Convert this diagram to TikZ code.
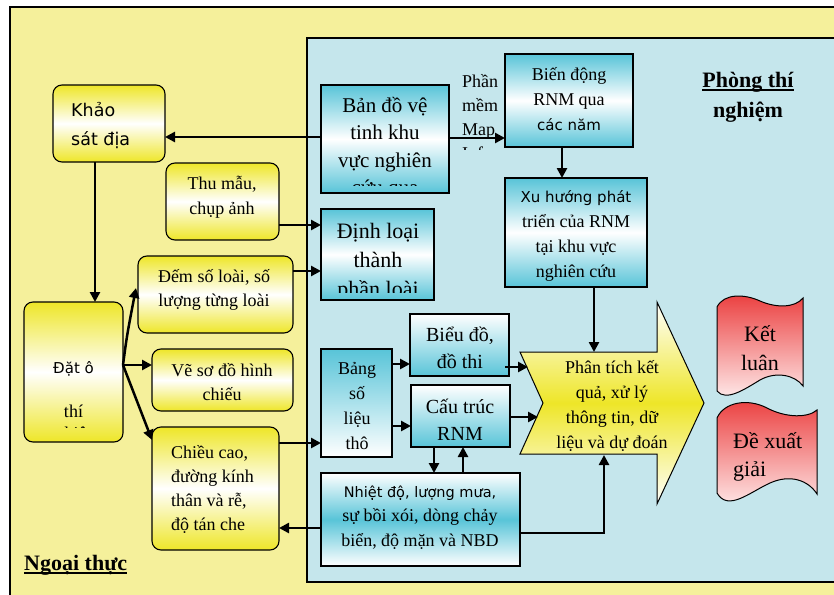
\documentclass[tikz,border=0pt]{standalone}
\usepackage{fontspec}
\setmainfont{Liberation Serif}
\newfontfamily\sansf{DejaVu Sans}
\usetikzlibrary{arrows.meta}
\definecolor{outerbg}{RGB}{245,240,155}
\definecolor{labbg}{RGB}{197,230,236}
\definecolor{cy}{RGB}{88,196,216}
\definecolor{ye}{RGB}{238,230,40}
\definecolor{rd}{RGB}{235,62,62}
\definecolor{pk}{RGB}{255,240,240}
\newcommand\myul[1]{\setbox0=\hbox{#1}\rlap{\rule[-4pt]{\wd0}{1.8pt}}\box0}
\begin{document}
\begin{tikzpicture}[x=1pt,y=-1pt,
 box/.style={draw=black, line width=1.1pt, inner sep=0pt, outer sep=0pt, anchor=north west},
 ybox/.style={box, rounded corners=9pt, top color=ye, bottom color=ye, middle color=white},
 cbox/.style={box, top color=cy, bottom color=cy, middle color=white},
 cwbox/.style={box, top color=cy, bottom color=white},
 wcbox/.style={box, top color=white, bottom color=cy},
 wcwbox/.style={box, top color=white, bottom color=white, middle color=cy},
 txt/.style={inner sep=0pt, align=center, font=\fontsize{18}{25}\selectfont},
 arr/.style={line width=2.5pt, -{Triangle[length=10pt,width=10pt]}},
]
\useasboundingbox (0,0) rectangle (834,594);
% backgrounds
\path[fill=outerbg, draw=black, line width=1.2pt] (10,7) rectangle (850,610);
\path[fill=labbg, draw=black, line width=1.1pt] (307,38) rectangle (850,582);

% yellow boxes (field)
\node[ybox, minimum width=112, minimum height=77] (khao) at (53,85) {};
\node[ybox, minimum width=113, minimum height=77] (thu) at (166,163) {};
\node[ybox, minimum width=155, minimum height=77] (dem) at (138,256) {};
\node[ybox, minimum width=99, minimum height=140] (dato) at (24,302) {};
\node[ybox, minimum width=141, minimum height=62] (ve) at (152,349) {};
\node[ybox, minimum width=127, minimum height=123] (chieu) at (152,427) {};

% cyan boxes (lab)
\node[cbox, minimum width=128, minimum height=108] (bando) at (321,85) {};
\node[cbox, minimum width=128, minimum height=93] (bien) at (505,54) {};
\node[cbox, minimum width=142, minimum height=109] (xu) at (505,178) {};
\node[cbox, minimum width=113, minimum height=91] (dinh) at (321,209) {};
\node[cwbox, minimum width=71, minimum height=108] (bang) at (321,349) {};
\node[wcbox, minimum width=99, minimum height=62] (bieu) at (410,314) {};
\node[wcbox, minimum width=99, minimum height=62] (cau) at (411,385) {};
\node[wcwbox, minimum width=199, minimum height=93] (nhiet) at (321,473) {};

% big arrow
\path[draw=black, line width=1pt, top color=white, bottom color=white, middle color=ye]
 (520,352) -- (657,352) -- (657,302) -- (704,403) -- (657,504) -- (657,454) -- (520,454) -- (543,403) -- cycle;
\coordinate (pt) at (594,352);
\coordinate (pn1) at (528,367);
\coordinate (pn2) at (538,417);
\coordinate (pb) at (604,455);

% red documents
\path[draw=black, line width=1pt, top color=rd, bottom color=pk]
 (717,307) .. controls (724,293) and (745,294) .. (760,301) .. controls (776,308) and (795,308) .. (803,298)
 -- (803,386) .. controls (795,375) and (776,371) .. (760,380) .. controls (745,389) and (726,402) .. (717,391) -- cycle;
\path[draw=black, line width=1pt, top color=rd, bottom color=pk]
 (717,418) .. controls (724,402) and (748,398) .. (767,408) .. controls (786,418) and (808,418) .. (817,410)
 -- (817,494) .. controls (808,480) and (790,474) .. (770,483) .. controls (750,492) and (728,512) .. (717,493) -- cycle;

% texts
\node[txt, anchor=west, align=left, font=\sansf\fontsize{17.5}{29}\selectfont] (tkhao) at (71,126) {Khảo\\sát địa};
\node[txt] (tthu) at (222,197.5) {Thu mẫu,\\chụp ảnh};
\node[txt, font=\fontsize{18}{24}\selectfont] (tdem) at (214,290) {Đếm số loài, số\\lượng từng loài};
\begin{scope}
\clip (24,302) rectangle (123,427);
\node[txt, font=\fontsize{18}{22}\selectfont] (tdat) at (73.5,402) {{\sansf\fontsize{15}{22}\selectfont Đặt ô}\\[22pt]thí\\nghiệm};
\end{scope}
\node[txt, font=\fontsize{18}{24}\selectfont] (tve) at (222,382) {Vẽ sơ đồ hình\\chiếu};
\node[txt, anchor=west, align=left, font=\fontsize{18}{24}\selectfont] (tchieu) at (171,489) {Chiều cao,\\đường kính\\thân và rễ,\\độ tán che};
\begin{scope}
\clip (321,85) rectangle (449,185);
\node[txt, font=\fontsize{21}{27.5}\selectfont] (tbando) at (385,148) {Bản đồ vệ\\tinh khu\\vực nghiên\\cứu qua};
\end{scope}
\begin{scope}
\clip (452,60) rectangle (504,149);
\node[txt, anchor=west, align=left, font=\fontsize{18}{24}\selectfont] (tmap) at (462,117) {Phần\\mềm\\Map\\Info};
\end{scope}
\node[txt] (tbien) at (569,99) {Biến động\\RNM qua\\{\sansf\fontsize{15}{25}\selectfont các năm}};
\node[txt] (txu) at (576,235.5) {{\sansf\fontsize{15}{25}\selectfont Xu hướng phát}\\triển của RNM\\tại khu vực\\nghiên cứu};
\begin{scope}
\clip (321,209) rectangle (434,292);
\node[txt, font=\fontsize{22}{29}\selectfont] (tdinh) at (378,262) {Định loại\\thành\\phần loài};
\end{scope}
\node[txt] (tbang) at (357,406) {Bảng\\số\\liệu\\thô};
\node[txt, font=\fontsize{20}{27}\selectfont] (tbieu) at (460,347.5) {Biểu đồ,\\đồ thi};
\node[txt, font=\fontsize{20}{27}\selectfont] (tcau) at (460,419.5) {Cấu trúc\\RNM};
\node[txt, font=\fontsize{18}{24.5}\selectfont] (tnhiet) at (420,517.5) {{\sansf\fontsize{14.5}{24.5}\selectfont Nhiệt độ, lượng mưa,}\\sự bồi xói, dòng chảy\\biển, độ mặn và NBD};
\node[txt, font=\fontsize{18}{24.7}\selectfont] (tphan) at (612,406) {Phân tích kết\\quả, xử lý\\thông tin, dữ\\liệu và dự đoán};
\node[txt, font=\fontsize{22}{29}\selectfont] (tket) at (760,348.5) {Kết\\luân};
\node[txt, anchor=west, align=left, font=\fontsize{22}{28}\selectfont] (tde) at (733,457) {Đề xuất\\giải};
\node[txt, font=\bfseries\fontsize{22}{30}\selectfont] (tphong) at (748,97) {\myul{Phòng thí}\\nghiệm};
\node[txt, anchor=west, font=\bfseries\fontsize{22}{26}\selectfont] (tngoai) at (24,565) {\myul{Ngoại thực}};

% level coordinates
\coordinate (h137) at (0,137);
\coordinate (h138) at (0,138);
\coordinate (h225) at (0,225);
\coordinate (h271) at (0,271);
\coordinate (h288) at (0,288);
\coordinate (h365) at (0,365);
\coordinate (h440) at (0,440);
\coordinate (h443) at (0,443);
\coordinate (h528) at (0,528);
\coordinate (h364) at (0,364);
\coordinate (h426) at (0,426);
\coordinate (h367) at (0,367);
\coordinate (h417) at (0,417);
\coordinate (h533) at (0,533);
\coordinate (v95) at (95,0);
\coordinate (v562) at (562,0);
\coordinate (v434) at (434,0);
\coordinate (v463) at (463,0);
\coordinate (v594) at (594,0);

% connectors
\draw[arr] (bando.west |- h137) -- (khao.east |- h137);
\draw[arr] (bando.east |- h138) -- (bien.west |- h138);
\draw[arr] (bien.south -| v562) -- (xu.north -| v562);
\draw[arr] (khao.south -| v95) -- (dato.north -| v95);
\draw[arr] (thu.east |- h225) -- (dinh.west |- h225);
\draw[arr] (dem.east |- h271) -- (dinh.west |- h271);
\draw[arr] (dato.east |- h365) .. controls (127,335) .. ([xshift=-2pt]dem.west |- h288);
\draw[arr] (dato.east |- h365) -- (ve.west |- h365);
\draw[arr] (dato.east |- h365) -- (chieu.west |- h440);
\draw[arr] (chieu.east |- h443) -- (bang.west |- h443);
\draw[arr] (nhiet.west |- h528) -- (chieu.east |- h528);
\draw[arr] (bang.east |- h364) -- (bieu.west |- h364);
\draw[arr] (bang.east |- h426) -- (cau.west |- h426);
\draw[arr] ([xshift=-4pt]bieu.east |- h367) -- (pn1);
\draw[arr] (cau.east |- h417) -- (pn2);
\draw[arr] (cau.south -| v434) -- (nhiet.north -| v434);
\draw[arr] (nhiet.north -| v463) -- (cau.south -| v463);
\draw[arr] (nhiet.east |- h533) -| (pb);
\draw[arr] (xu.south -| v594) -- (pt);
\end{tikzpicture}
\end{document}
